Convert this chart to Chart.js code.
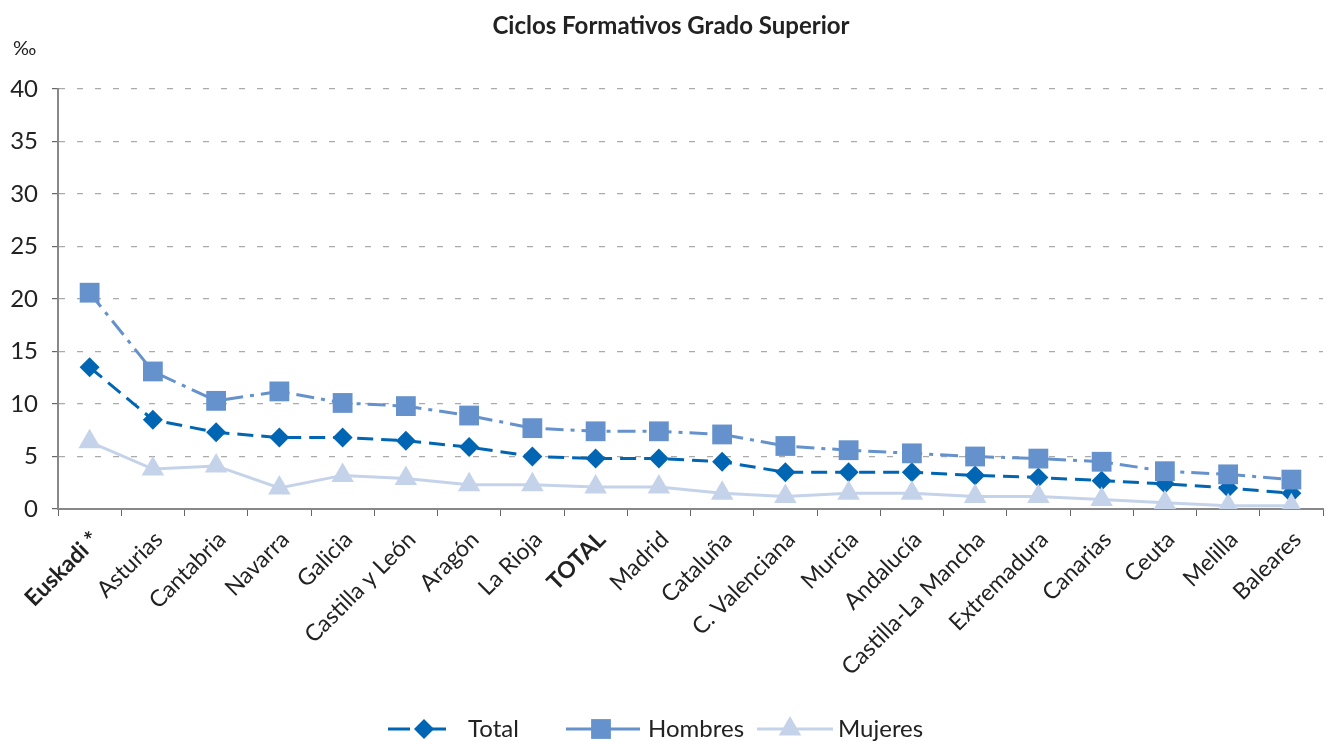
<!DOCTYPE html>
<html>
<head>
<meta charset="utf-8">
<script src="https://cdn.jsdelivr.net/npm/chart.js@4/dist/chart.umd.min.js"></script>
<style>
  html, body { margin: 0; padding: 0; background: #fff; }
  #wrap { width: 1326px; height: 742px; }
</style>
</head>
<body>
<div id="wrap"><canvas id="myChart"></canvas></div>
<script>
var categories = ["Euskadi *", "Asturias", "Cantabria", "Navarra", "Galicia", "Castilla y León", "Aragón", "La Rioja", "TOTAL", "Madrid", "Cataluña", "C. Valenciana", "Murcia", "Andalucía", "Castilla-La Mancha", "Extremadura", "Canarias", "Ceuta", "Melilla", "Baleares"];
var boldLabels = ["Euskadi *", "TOTAL"];

var totalValues   = [13.5, 8.5, 7.3, 6.8, 6.8, 6.5, 5.9, 5.0, 4.8, 4.8, 4.5, 3.5, 3.5, 3.5, 3.2, 3.0, 2.7, 2.4, 2.0, 1.5];
var hombresValues = [20.6, 13.1, 10.3, 11.2, 10.1, 9.8, 8.9, 7.7, 7.4, 7.4, 7.1, 6.0, 5.6, 5.3, 5.0, 4.8, 4.5, 3.6, 3.3, 2.8];
var mujeresValues = [6.4, 3.8, 4.1, 2.0, 3.2, 2.9, 2.3, 2.3, 2.1, 2.1, 1.5, 1.2, 1.5, 1.5, 1.2, 1.2, 0.9, 0.6, 0.3, 0.3];

var yTicks = [0, 5, 10, 15, 20, 25, 30, 35, 40];

var FONT = "Lato, 'Noto Sans', sans-serif";

// stretch plot area to the right edge (rotated labels don't need the extra room)
var widen = {
    id: 'widen',
    afterLayout: function(chart) {
        var a = chart.chartArea;
        a.right = chart.width - 3;
        a.width = a.right - a.left;
        var xs = chart.scales.x;
        xs.right = a.right;
        xs.width = xs.right - xs.left;
        xs.configure();
    }
};

// title, unit and legend drawn on the canvas
var extras = {
    id: 'extras',
    afterDraw: function(chart) {
        var ctx = chart.ctx;
        ctx.save();
        ctx.fillStyle = '#222';
        ctx.textBaseline = 'middle';
        ctx.textAlign = 'center';
        ctx.font = "bold 24px " + FONT;
        ctx.fillText("Ciclos Formativos Grado Superior", 671, 26);
        ctx.textAlign = 'left';
        ctx.font = "20px " + FONT;
        ctx.fillText("‰", 13, 49);

        // legend: line + marker + label
        var items = [
            {ds: chart.data.datasets[0], x: 388, mx: 424, end: 460, tx: 468, dash: [22, 14]},
            {ds: chart.data.datasets[1], x: 566, mx: 601, end: 640, tx: 648, dash: []},
            {ds: chart.data.datasets[2], x: 757, mx: 790, end: 833, tx: 838, dash: []}
        ];
        var y = 729;
        items.forEach(function(it){
            var ds = it.ds;
            ctx.strokeStyle = ds.borderColor;
            ctx.lineWidth = 3;
            ctx.setLineDash(it.dash);
            ctx.beginPath();
            ctx.moveTo(it.x, y);
            ctx.lineTo(it.end, y);
            ctx.stroke();
            ctx.setLineDash([]);
            ctx.fillStyle = ds.backgroundColor;
            var r = ds.pointRadius;
            ctx.beginPath();
            if (ds.pointStyle === 'rectRot') {
                ctx.moveTo(it.mx, y - r); ctx.lineTo(it.mx + r, y);
                ctx.lineTo(it.mx, y + r); ctx.lineTo(it.mx - r, y);
            } else if (ds.pointStyle === 'rect') {
                var s = r * Math.SQRT1_2;
                ctx.rect(it.mx - s, y - s, 2 * s, 2 * s);
            } else {
                ctx.moveTo(it.mx, y - r);
                ctx.lineTo(it.mx + r * 0.866, y + r * 0.5);
                ctx.lineTo(it.mx - r * 0.866, y + r * 0.5);
            }
            ctx.closePath();
            ctx.fill();
            ctx.fillStyle = '#222';
            ctx.font = "24px " + FONT;
            ctx.fillText(ds.label, it.tx, y);
        });
        ctx.restore();
    }
};

var ctx = document.getElementById('myChart').getContext('2d');

var myChart = new Chart(ctx, {
    type: 'line',
    data: {
        labels: categories,
        datasets: [{
            label: 'Total',
            data: totalValues,
            borderColor: '#0066B3',
            backgroundColor: '#0066B3',
            borderWidth: 3,
            borderDash: [16, 8],
            pointStyle: 'rectRot',
            pointRadius: 10,
            pointHoverRadius: 10,
            pointBorderWidth: 0,
            order: 3
        }, {
            label: 'Hombres',
            data: hombresValues,
            borderColor: '#6592CC',
            backgroundColor: '#6592CC',
            borderWidth: 3,
            borderDash: [18, 7, 4, 7],
            pointStyle: 'rect',
            pointRadius: 14,
            pointHoverRadius: 14,
            pointBorderWidth: 0,
            order: 2
        }, {
            label: 'Mujeres',
            data: mujeresValues,
            borderColor: '#C5D3EA',
            backgroundColor: '#C5D3EA',
            borderWidth: 3,
            pointStyle: 'triangle',
            pointRadius: 13,
            pointHoverRadius: 13,
            pointBorderWidth: 0,
            order: 1
        }]
    },
    options: {
        responsive: true,
        maintainAspectRatio: false,
        animation: false,
        layout: {
            padding: {top: 89, right: 3, left: 0, bottom: 0}
        },
        plugins: {
            legend: {display: false},
            title: {display: false},
            tooltip: {enabled: false}
        },
        scales: {
            x: {
                offset: true,
                afterFit: function(s){ s.height = 233; },
                grid: {
                    offset: true,
                    drawOnChartArea: false,
                    drawTicks: true,
                    tickLength: 7,
                    color: '#666'
                },
                border: {color: '#888', width: 2},
                ticks: {
                    autoSkip: false,
                    minRotation: 45,
                    maxRotation: 45,
                    padding: 10,
                    labelOffset: 6,
                    color: '#222',
                    font: function(c) {
                        var lbl = c.tick ? c.tick.label : '';
                        return {family: FONT, size: 23, weight: boldLabels.indexOf(lbl) >= 0 ? 'bold' : 'normal'};
                    }
                }
            },
            y: {
                min: 0,
                max: 40,
                afterFit: function(s){ s.width = 58; },
                afterBuildTicks: function(s){ s.ticks = yTicks.map(function(v){ return {value: v}; }); },
                grid: {
                    color: function(c){ return c.tick.value === 0 ? 'rgba(0,0,0,0)' : '#aaa'; },
                    tickColor: '#666',
                    tickLength: 6,
                    lineWidth: 1.2
                },
                border: {color: '#888', width: 2, dash: [6, 12]},
                ticks: {
                    color: '#222',
                    padding: 14,
                    font: {family: FONT, size: 24}
                }
            }
        }
    },
    plugins: [widen, extras]
});
</script>
</body>
</html>
